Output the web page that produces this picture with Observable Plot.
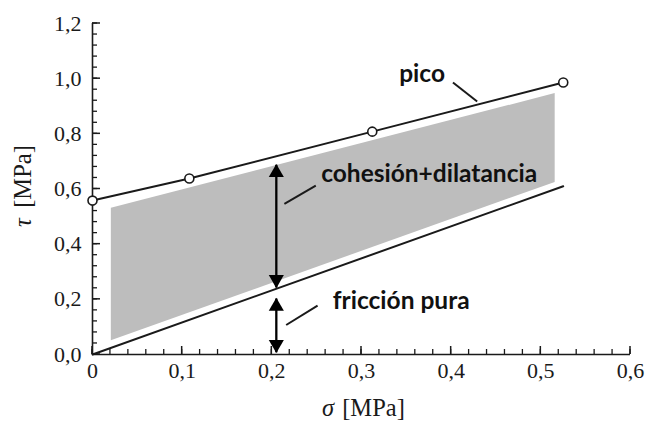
<!DOCTYPE html>
<html>
<head>
<meta charset="utf-8">
<script src="https://cdn.jsdelivr.net/npm/d3@7"></script>
<script src="https://cdn.jsdelivr.net/npm/@observablehq/plot@0.6"></script>
<style>
  html, body { margin: 0; padding: 0; background: #fff; }
</style>
</head>
<body>
<div id="chart"></div>
<script>
// Peak envelope ("pico") measured points
const picoSigma = [0, 0.108, 0.312, 0.525];
const picoTau   = [0.558, 0.638, 0.808, 0.986];

// Pure friction line
const frictionSigma = [0, 0.525];
const frictionTau   = [0, 0.61];

// Grey band (cohesion + dilatancy)
const bandSigma  = [0.021, 0.516];
const bandTop    = [0.530, 0.946];
const bandBottom = [0.050, 0.624];

// Double arrows
const arrowSigma = [0.205, 0.205];
const arrowTop   = [0.688, 0.203];
const arrowBot   = [0.243, 0.008];

// Annotation labels and leader lines
const labelTexts = ["pico", "cohesión+dilatancia", "fricción pura"];
const labelSigma = [0.342, 0.255, 0.268];
const labelTau   = [1.015, 0.6525, 0.194];
const leaderSigma1 = [0.402, 0.214, 0.216];
const leaderTau1   = [0.986, 0.546, 0.107];
const leaderSigma2 = [0.429, 0.249, 0.251];
const leaderTau2   = [0.917, 0.612, 0.177];

// Axis ticks
const xMajor = [0, 0.1, 0.2, 0.3, 0.4, 0.5, 0.6];
const xMinor = d3.range(0, 31).map(i => i / 50);
const yMajor = [0, 0.2, 0.4, 0.6, 0.8, 1.0, 1.2];
const yMinor = d3.range(0, 31).map(i => i / 25);

const pico = picoSigma.map((s, i) => ({s, t: picoTau[i]}));
const friction = frictionSigma.map((s, i) => ({s, t: frictionTau[i]}));
const band = bandSigma.map((s, i) => ({s, t1: bandBottom[i], t2: bandTop[i]}));
const arrows = arrowSigma.map((s, i) => ({s, top: arrowTop[i], bot: arrowBot[i]}));
const labels = labelTexts.map((text, i) => ({text, s: labelSigma[i], t: labelTau[i]}));
const leaders = leaderSigma1.map((s1, i) => ({s1, t1: leaderTau1[i], s2: leaderSigma2[i], t2: leaderTau2[i]}));

const fmtY = d => d3.format(".1f")(d).replace(".", ",");
const fmtX = d => d === 0 ? "0" : d3.format(".1f")(d).replace(".", ",");

const ink = "#1a1a1a";
const labelFont = "Lato, 'Open Sans', sans-serif";

const chart = Plot.plot({
  width: 649,
  height: 421,
  marginLeft: 92,
  marginRight: 19,
  marginTop: 23,
  marginBottom: 67,
  x: {domain: [0, 0.6]},
  y: {domain: [0, 1.2]},
  style: {fontFamily: "'Liberation Serif', 'Times New Roman', serif", fontSize: "22px", color: ink, background: "#fff"},
  marks: [
    // band
    Plot.areaY(band, {x: "s", y1: "t1", y2: "t2", fill: "#bdbdbd"}),
    // tick labels
    Plot.axisX({ticks: xMajor, tickSize: 0, tickPadding: 8, tickFormat: fmtX, label: null, fill: ink}),
    Plot.axisY({ticks: yMajor, tickSize: 0, tickPadding: 11, tickFormat: fmtY, label: null, fill: ink}),
    // axis titles
    Plot.text(["σ"], {frameAnchor: "bottom", textAnchor: "middle", lineAnchor: "middle", dx: -33.5, dy: 54, fontSize: 24.5, fontStyle: "italic", fill: ink}),
    Plot.text(["[MPa]"], {frameAnchor: "bottom", textAnchor: "middle", lineAnchor: "middle", dx: 12, dy: 54, fontSize: 24.5, fill: ink}),
    Plot.text(["τ"], {frameAnchor: "left", textAnchor: "middle", lineAnchor: "middle", dx: -69, dy: 33.5, rotate: -90, fontSize: 24.5, fontStyle: "italic", fill: ink}),
    Plot.text(["[MPa]"], {frameAnchor: "left", textAnchor: "middle", lineAnchor: "middle", dx: -69, dy: -12.5, rotate: -90, fontSize: 24.5, fill: ink}),
    // lines
    Plot.line(friction, {x: "s", y: "t", stroke: ink, strokeWidth: 2}),
    Plot.line(pico, {x: "s", y: "t", stroke: ink, strokeWidth: 2}),
    // double arrows
    Plot.link(arrows, {x1: "s", y1: "top", x2: "s", y2: "bot", stroke: "#000", strokeWidth: 2.3}),
    Plot.dot(arrows, {x: "s", y: "top", symbol: "triangle", r: 5.6, dy: 8, fill: "#000", stroke: "none"}),
    Plot.dot(arrows, {x: "s", y: "bot", symbol: "triangle", r: 5.6, dy: -8, rotate: 180, fill: "#000", stroke: "none"}),
    // leaders
    Plot.link(leaders, {x1: "s1", y1: "t1", x2: "s2", y2: "t2", stroke: ink, strokeWidth: 2}),
    // annotation labels
    Plot.text(labels, {x: "s", y: "t", text: "text", textAnchor: "start", lineAnchor: "middle",
      fontFamily: labelFont, fontWeight: "bold", fontSize: 24.5, fill: "#111"}),
    // axis lines
    Plot.ruleX([0], {stroke: ink, strokeWidth: 1.6}),
    Plot.ruleY([0], {stroke: ink, strokeWidth: 1.6}),
    // open circles
    Plot.dot(pico, {x: "s", y: "t", r: 4.5, stroke: ink, strokeWidth: 1.6, fill: "#fff"})
  ]
});
document.getElementById("chart").appendChild(chart);

// Inward axis ticks, positioned with the plot's own x and y scales
const sx = chart.scale("x"), sy = chart.scale("y");
const svg = d3.select(chart);
const tickG = svg.append("g").attr("aria-label", "inward ticks").attr("stroke", ink).attr("fill", "none");
const x0 = sx.apply(0), y0 = sy.apply(0);
function addXTicks(ticks, len, sw) {
  tickG.selectAll(null).data(ticks).join("line")
    .attr("x1", d => sx.apply(d)).attr("x2", d => sx.apply(d))
    .attr("y1", y0).attr("y2", y0 - len)
    .attr("stroke-width", sw);
}
function addYTicks(ticks, len, sw) {
  tickG.selectAll(null).data(ticks).join("line")
    .attr("y1", d => sy.apply(d)).attr("y2", d => sy.apply(d))
    .attr("x1", x0).attr("x2", x0 + len)
    .attr("stroke-width", sw);
}
addXTicks(xMinor, 5, 1.3);
addXTicks(xMajor, 8, 1.5);
addYTicks(yMinor, 5, 1.3);
addYTicks(yMajor, 8, 1.5);

// keep the open circles above the ticks
const dotGroups = chart.querySelectorAll('g[aria-label="dot"]');
if (dotGroups.length) chart.appendChild(dotGroups[dotGroups.length - 1]);
</script>
</body>
</html>
